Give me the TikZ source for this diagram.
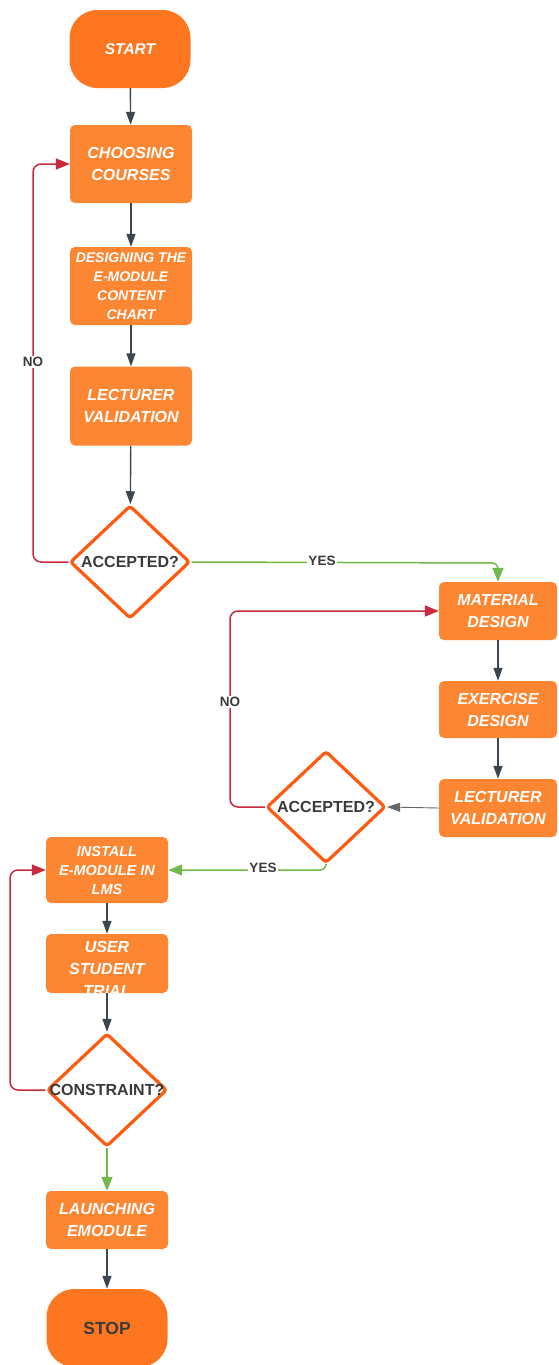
\documentclass[tikz,border=0pt]{standalone}
\usepackage{fontspec}
\setmainfont{Liberation Sans}
\usetikzlibrary{arrows.meta,shapes.geometric}
\definecolor{startc}{HTML}{FF7621}
\definecolor{boxc}{HTML}{FD8633}
\definecolor{dborder}{HTML}{FF5A10}
\definecolor{redc}{HTML}{C9283E}
\definecolor{greenc}{HTML}{72B84A}
\definecolor{grayc}{HTML}{3D4550}
\definecolor{txtc}{HTML}{3A3A3A}
\begin{document}
\begin{tikzpicture}[x=1pt,y=-1pt,
  procbox/.style={rectangle, rounded corners=5pt, fill=boxc, draw=none,
    minimum width=122pt, inner sep=0pt, text=white, align=center,
    font=\fontsize{16}{22}\selectfont\bfseries\itshape},
  termbox/.style={rectangle, rounded corners=28pt, fill=startc, draw=none,
    minimum width=121pt, minimum height=78pt, inner sep=0pt, align=center},
  decis/.style={diamond, draw=dborder, line width=3.2pt, fill=white,
    rounded corners=3pt, inner sep=0pt},
  dtext/.style={text=txtc, font=\fontsize{16}{20}\selectfont\bfseries, inner sep=0pt},
  lbl/.style={fill=white, text=txtc, inner sep=1pt, font=\fontsize{13.5}{16}\selectfont\bfseries},
  grayarrow/.style={draw=grayc, line width=1.4pt, -{Triangle[length=13pt,width=9pt]}},
  redarrow/.style={draw=redc, line width=1.5pt, rounded corners=8pt, -{Triangle[length=14pt,width=11pt]}},
  greenarrow/.style={draw=greenc, line width=1.5pt, rounded corners=6pt, -{Triangle[length=14pt,width=11pt]}}
]
\useasboundingbox (0,0) rectangle (558,1365);

% terminals
\node[termbox, text=white, font=\fontsize{15.5}{18}\selectfont\bfseries\itshape] (start) at (130,49) {START};
\node[termbox, text=txtc, font=\fontsize{17.5}{20}\selectfont\bfseries] (stop) at (107,1328) {STOP};

% process boxes
\node[procbox, minimum height=78pt] (b1) at (131,164) {CHOOSING\\COURSES};
\node[procbox, minimum height=78pt, font=\fontsize{14}{19}\selectfont\bfseries\itshape] (b2) at (131,286) {DESIGNING THE\\E-MODULE\\CONTENT\\CHART};
\node[procbox, minimum height=79pt] (b3) at (131,406) {LECTURER\\VALIDATION};
\node[procbox, minimum width=118pt, minimum height=58pt] (b4) at (498,611) {MATERIAL\\DESIGN};
\node[procbox, minimum width=118pt, minimum height=57pt] (b5) at (498,709.5) {EXERCISE\\DESIGN};
\node[procbox, minimum width=118pt, minimum height=58pt] (b6) at (498,808) {LECTURER\\VALIDATION};
\node[procbox, minimum height=66pt, font=\fontsize{14.5}{19}\selectfont\bfseries\itshape] (b7) at (107,870) {INSTALL\\E-MODULE IN\\LMS};
\node[procbox, minimum height=59pt] (b8) at (107,963.5) {};
\begin{scope}
  \clip (b8.south west) rectangle (b8.north east);
  \node[text=white, align=center, inner sep=0pt, font=\fontsize{16}{22}\selectfont\bfseries\itshape] (b8t) at (107,969) {USER\\STUDENT\\TRIAL};
\end{scope}
\node[procbox, minimum height=58pt] (b9) at (107,1220) {LAUNCHING\\EMODULE};

% decisions
\node[decis, minimum width=120pt, minimum height=113pt] (d1) at (130,562) {};
\node[dtext] (d1t) at (d1.center) {ACCEPTED?};
\node[decis, minimum width=119pt, minimum height=112pt] (d2) at (326,807) {};
\node[dtext] (d2t) at (d2.center) {ACCEPTED?};
\node[decis, minimum width=120pt, minimum height=113pt] (d3) at (107,1090) {};
\node[dtext] (d3t) at (d3.center) {CONSTRAINT?};

% connectors
\draw[grayarrow] (start) -- (b1);
\draw[grayarrow] (b1) -- (b2);
\draw[grayarrow] (b2) -- (b3);
\draw[grayarrow] (b3) -- (d1);
\draw[grayarrow] (b4) -- (b5);
\draw[grayarrow] (b5) -- (b6);
\draw[grayarrow, line width=0.9pt, draw=gray!80!black] (b6.west) -- (d2.east);
\draw[grayarrow] (b7) -- (b8);
\draw[grayarrow] (b8) -- (d3);
\draw[grayarrow] (b9) -- (stop);

\coordinate (n1a) at (33,562);
\coordinate (n1b) at (33,164);
\draw[redarrow] (d1.west) -- (n1a) -- (n1b) -- (b1.west);
\node[lbl] (no1) at (33,362) {NO};

\coordinate (y1a) at (b4.north |- 0,563);
\draw[greenarrow] (d1.east) -- (y1a) -- (b4.north);
\node[lbl] (yes1) at (322,561) {YES};

\coordinate (n2a) at (230,807);
\coordinate (n2b) at (230,611);
\draw[redarrow] (d2.west) -- (n2a) -- (n2b) -- (b4.west);
\node[lbl] (no2) at (230,702) {NO};

\coordinate (y2a) at (326,870);
\draw[greenarrow] (d2.south) -- (y2a) -- (b7.east);
\node[lbl] (yes2) at (263,868) {YES};

\coordinate (n3a) at (10,1090);
\coordinate (n3b) at (10,870);
\draw[redarrow] (d3.west) -- (n3a) -- (n3b) -- (b7.west);

\draw[greenarrow] (d3.south) -- (b9.north);
\end{tikzpicture}
\end{document}
